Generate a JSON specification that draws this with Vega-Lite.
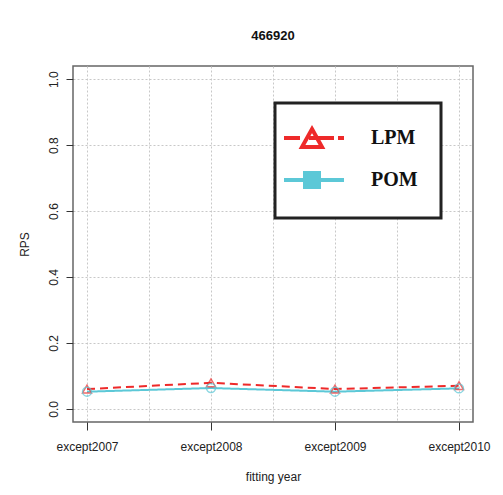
{
  "$schema": "https://vega.github.io/schema/vega-lite/v6.json",
  "width": 400,
  "height": 356,
  "autosize": {"type": "none"},
  "padding": {"left": 73, "top": 66, "right": 30, "bottom": 73},
  "background": "white",
  "config": {
    "view": {"stroke": "#666", "strokeWidth": 1.5},
    "font": "Liberation Sans"
  },
  "title": {"text": "466920", "fontSize": 13, "fontWeight": "bold", "font": "Liberation Sans", "color": "#111", "anchor": "middle", "baseline": "alphabetic", "offset": 13},
  "data": {
    "values": [
      {"idx": 1, "fitting": "except2007", "model": "LPM", "rps": 0.060},
      {"idx": 2, "fitting": "except2008", "model": "LPM", "rps": 0.079},
      {"idx": 3, "fitting": "except2009", "model": "LPM", "rps": 0.060},
      {"idx": 4, "fitting": "except2010", "model": "LPM", "rps": 0.070},
      {"idx": 1, "fitting": "except2007", "model": "POM", "rps": 0.052},
      {"idx": 2, "fitting": "except2008", "model": "POM", "rps": 0.063},
      {"idx": 3, "fitting": "except2009", "model": "POM", "rps": 0.052},
      {"idx": 4, "fitting": "except2010", "model": "POM", "rps": 0.062}
    ]
  },
  "layer": [
    {
      "mark": {"type": "line", "strokeWidth": 2},
      "encoding": {
        "x": {
          "field": "idx", "type": "quantitative",
          "scale": {"domain": [0.887, 4.113], "nice": false, "zero": false},
          "axis": {
            "values": [1, 1.5, 2, 2.5, 3, 3.5, 4],
            "title": "fitting year",
            "labelExpr": "datum.value % 1 === 0 ? 'except' + (2006 + datum.value) : ''",
            "grid": true, "gridColor": "#c8c8c8", "gridDash": [2, 2],
            "domain": false, "tickSize": 8, "tickColor": "#333",
            "tickOpacity": {"condition": {"test": "datum.value % 1 === 0", "value": 1}, "value": 0},
            "labelFont": "Liberation Sans", "labelFontSize": 12, "labelColor": "#222",
            "labelBaseline": "alphabetic", "labelPadding": 20, "labelFlush": false, "labelOverlap": false,
            "titleFont": "Liberation Sans", "titleFontSize": 12, "titleFontWeight": "normal", "titleColor": "#222",
            "titleBaseline": "alphabetic", "titleY": 58, "titleX": 200
          }
        },
        "y": {
          "field": "rps", "type": "quantitative",
          "scale": {"domain": [-0.04, 1.04], "nice": false, "zero": false},
          "axis": {
            "values": [0, 0.2, 0.4, 0.6, 0.8, 1],
            "format": ".1f",
            "title": "RPS",
            "grid": true, "gridColor": "#c8c8c8", "gridDash": [2, 2],
            "domain": false, "tickSize": 7, "tickColor": "#333",
            "labelAngle": 270, "labelAlign": "center", "labelBaseline": "alphabetic", "labelPadding": 9,
            "labelFont": "Liberation Sans", "labelFontSize": 12, "labelColor": "#222",
            "titleFont": "Liberation Sans", "titleFontSize": 12, "titleFontWeight": "normal", "titleColor": "#222",
            "titleAngle": 270, "titleAlign": "center", "titleBaseline": "alphabetic", "titleX": -45, "titleY": 178
          }
        },
        "color": {
          "field": "model", "type": "nominal",
          "scale": {"domain": ["LPM", "POM"], "range": ["#ee2a2a", "#5cc8d7"]},
          "legend": {
            "title": null, "orient": "none", "legendX": 202, "legendY": 37,
            "padding": 23, "symbolSize": 400, "symbolStrokeWidth": 4, "rowPadding": 10,
            "symbolType": {"expr": "datum.value === 'LPM' ? 'M-2.6,0H-1.0M-0.1,0H2.4M2.8,0H3.4M0.2,-0.9L1.2,0.9H-0.8Z' : 'M-2.6,0H3.4M-0.5,-0.7H0.9V0.7H-0.5Z'"},
            "symbolFillColor": {"expr": "datum.value === 'LPM' ? '#ffffff' : '#5cc8d7'"},
            "labelOffset": 49, "labelFont": "Liberation Serif", "labelFontSize": 20, "labelFontWeight": "bold",
            "labelColor": "#111", "strokeColor": "#222", "fillColor": "white",
            "labelExpr": "datum.label + '\u00a0\u00a0\u00a0'",
            "encode": {
              "legend": {"update": {"strokeWidth": {"value": 3}}},
              "symbols": {"update": {
                "fillOpacity": {"value": 1},
                "opacity": {"value": 1}
              }}
            }
          }
        },
        "strokeDash": {
          "field": "model", "type": "nominal",
          "scale": {"domain": ["POM", "LPM"], "range": [[1, 0], [8, 5]]},
          "legend": null
        }
      }
    },
    {
      "mark": {"type": "point", "filled": false, "strokeWidth": 1.5, "size": 80},
      "encoding": {
        "x": {"field": "idx", "type": "quantitative"},
        "y": {"field": "rps", "type": "quantitative"},
        "color": {"field": "model", "type": "nominal", "legend": null},
        "shape": {
          "field": "model", "type": "nominal",
          "scale": {"domain": ["POM", "LPM"], "range": ["circle", "triangle-up"]},
          "legend": null
        }
      }
    }
  ]
}
